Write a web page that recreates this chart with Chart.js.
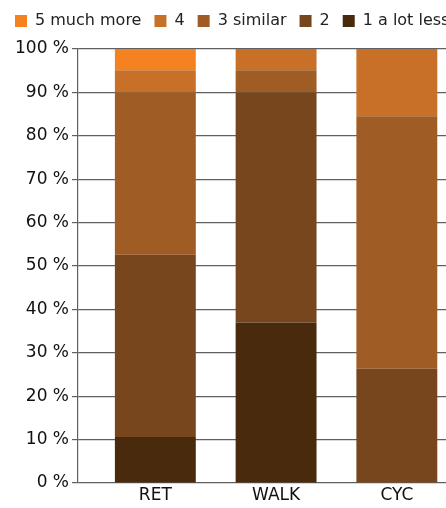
<!DOCTYPE html>
<html>
<head>
<meta charset="utf-8">
<script src="https://cdn.jsdelivr.net/npm/chart.js@4.4.1/dist/chart.umd.min.js"></script>
<style>
html,body{margin:0;padding:0;overflow:hidden;background:#fff;}
#wrap{width:520px;height:508px;position:relative;}
</style>
</head>
<body>
<div id="wrap"><canvas id="c"></canvas></div>
<script>
const categories = ['RET', 'WALK', 'CYC'];
const seriesNames = ['1 a lot less', '2', '3 similar', '4', '5 much more'];
const s1 = [10.6, 37.0, 0];
const s2 = [42.0, 53.0, 26.3];
const s3 = [37.4, 5.1, 58.2];
const s4 = [5.1, 4.9, 15.5];
const s5 = [4.9, 0, 0];
const seriesValues = [s1, s2, s3, s4, s5];
const seriesColors = ['#4a2a0c', '#77461d', '#a05c25', '#c87028', '#f58220'];
const yTicks = [0,10,20,30,40,50,60,70,80,90,100];

const datasets = seriesNames.map((name, k) => ({
  label: name,
  data: categories.map((c, i) => ({x: i + 1, y: seriesValues[k][i]})),
  backgroundColor: seriesColors[k],
  borderWidth: 0,
  barPercentage: 0.67,
  categoryPercentage: 1
}));

const legendSpacer = {
  id: 'legendSpacer',
  beforeInit(chart) {
    const origFit = chart.legend.fit;
    chart.legend.fit = function () {
      origFit.call(this);
      this.height += 10;
    };
  }
};

new Chart(document.getElementById('c'), {
  type: 'bar',
  data: { datasets },
  plugins: [legendSpacer],
  options: {
    responsive: true,
    maintainAspectRatio: false,
    animation: false,
    layout: { padding: { left: 2, right: 0, top: 0, bottom: 0 } },
    plugins: {
      tooltip: { enabled: false },
      legend: {
        reverse: true,
        align: 'start',
        labels: {
          boxWidth: 12, boxHeight: 12, padding: 13,
          color: '#222',
          font: { family: 'DejaVu Sans', size: 16 }
        }
      }
    },
    scales: {
      x: {
        type: 'linear',
        stacked: true,
        offset: false,
        min: 0.3595, max: 4.02,
        grid: { display: false, drawTicks: false },
        border: { display: false },
        afterBuildTicks: (axis) => { axis.ticks = categories.map((c, i) => ({ value: i + 1 })); },
        ticks: {
          autoSkip: false,
          maxRotation: 0,
          color: '#111',
          padding: 4,
          font: { family: 'DejaVu Sans', size: 17, lineHeight: 1 },
          callback: (v) => categories[v - 1]
        }
      },
      y: {
        stacked: true,
        min: 0, max: 100,
        afterBuildTicks: (axis) => { axis.ticks = yTicks.map(v => ({ value: v })); },
        afterFit: (scale) => { scale.width += 10; },
        grid: { color: '#606060', lineWidth: 1.2, tickLength: 6 },
        border: { color: '#606060', width: 1.2 },
        ticks: {
          color: '#111',
          padding: 3,
          font: { family: 'DejaVu Sans', size: 17 },
          callback: (v) => v + ' %'
        }
      }
    }
  }
});
</script>
</body>
</html>
